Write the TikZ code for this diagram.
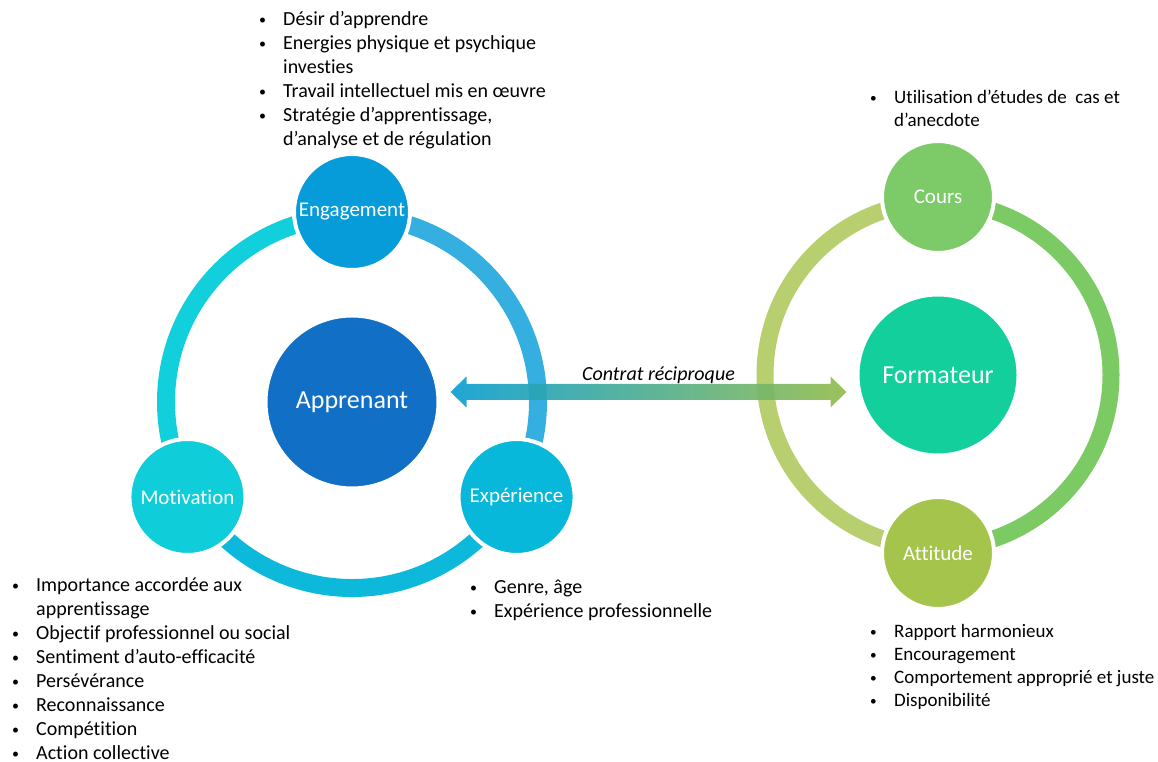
\documentclass[tikz,border=0pt]{standalone}
\usepackage{fontspec}
\setmainfont{Carlito}[Ligatures=NoCommon]
\usepackage{tikz}
\usetikzlibrary{calc}
\usetikzlibrary{positioning}
\tikzset{>=latex}
\definecolor{cApp}{RGB}{17,112,198}
\definecolor{cEng}{RGB}{5,156,217}
\definecolor{cMot}{RGB}{16,205,218}
\definecolor{cExp}{RGB}{8,184,218}
\definecolor{cArcL}{RGB}{18,208,219}
\definecolor{cArcR}{RGB}{53,174,224}
\definecolor{cArcB}{RGB}{12,185,218}
\definecolor{cForm}{RGB}{19,207,156}
\definecolor{cCours}{RGB}{125,203,104}
\definecolor{cAtt}{RGB}{165,196,76}
\definecolor{cVertL}{RGB}{183,207,111}
\definecolor{cVertR}{RGB}{124,202,100}
\definecolor{cFlecheB}{RGB}{4,157,218}
\definecolor{cFlecheV}{RGB}{162,192,64}
\pgfdeclarehorizontalshading{contrat}{100bp}{color(0bp)=(cFlecheB); color(22bp)=(cFlecheB); color(80bp)=(cFlecheV); color(100bp)=(cFlecheV)}
\tikzstyle{bulle} = [circle, draw=white, line width=4pt, text=white, inner sep=0, minimum size=116pt, font=\fontsize{21}{24}\selectfont]
\tikzstyle{centre} = [bulle, font=\fontsize{26}{30}\selectfont]
\tikzstyle{anneau} = [line width=18pt]
\tikzstyle{liste} = [anchor=base west, inner sep=0, font=\fontsize{20}{24}\selectfont]
\newcommand{\puce}{\raisebox{1pt}{\scalebox{0.7}{\textbullet}}}

\begin{document}
\begin{tikzpicture}[x=1pt, y=1pt]
\useasboundingbox (0,0) rectangle (1158,762);
%\draw [help lines, step=50] (0,0) grid (1158,762);
\node [centre, fill=cApp, minimum size=173pt] (app) at (352, 360) {Apprenant};
\draw [anneau, draw=cArcL] (app) ++(90:186) arc [start angle=90, end angle=210, radius=186];
\draw [anneau, draw=cArcR] (app) ++(90:186) arc [start angle=90, end angle=-30, radius=186];
\draw [anneau, draw=cArcB] (app) ++(210:186) arc [start angle=210, end angle=330, radius=186];
\node [bulle, fill=cEng] (eng) at ($(app)+(90:190)$) {Engagement};
\node [bulle, fill=cMot] (mot) at ($(app)+(210:190)$) {Motivation};
\node [bulle, fill=cExp] (exp) at ($(app)+(330:190)$) {Expérience};

\node [centre, fill=cForm, minimum size=161pt] (form) at (938, 387) {Formateur};
\draw [line width=17pt, draw=cVertL] (form) ++(90:173) arc [start angle=90, end angle=270, radius=173];
\draw [line width=17pt, draw=cVertR] (form) ++(90:173) arc [start angle=90, end angle=-90, radius=173];
\node [bulle, fill=cCours, minimum size=112pt] (cours) at ($(form)+(90:178)$) {Cours};
\node [bulle, fill=cAtt, minimum size=112pt] (att) at ($(form)+(270:178)$) {Attitude};

% contrat
\coordinate (lt) at ($(app.east)+(10,10)$);
\coordinate (rt) at ($(form.west)+(-9,-17)$);
\shade [shading=contrat, opacity=0.92] (lt) -- ++(16,15.5) -- ++(0,-7.5) -- ($(rt)+(-16,8)$) -- ++(0,7.5) -- (rt)
  -- ++(-16,-15.5) -- ++(0,7.5) -- ($(lt)+(16,-8)$) -- ++(0,-7.5) -- cycle;
\node [font=\fontsize{20}{24}\selectfont\itshape, inner sep=0] (ctr) at ($(lt)!0.5!(rt)+(10,17)$) {Contrat réciproque};

\node [liste] (leng) at (259, 736) {\begin{tabular}[t]{@{}p{24pt}@{}l@{}}
\puce & Désir d’apprendre\\
\puce & Energies physique et psychique\\
 & investies\\
\puce & Travail intellectuel mis en œuvre\\
\puce & Stratégie d’apprentissage,\\
 & d’analyse et de régulation
\end{tabular}};
\node [liste] (lmot) at (12, 170) {\begin{tabular}[t]{@{}p{24pt}@{}l@{}}
\puce & Importance accordée aux\\
 & apprentissage\\
\puce & Objectif professionnel ou social\\
\puce & Sentiment d’auto-efficacité\\
\puce & Persévérance\\
\puce & Reconnaissance\\
\puce & Compétition\\
\puce & Action collective
\end{tabular}};
\node [liste] (lexp) at (470, 168) {\begin{tabular}[t]{@{}p{24pt}@{}l@{}}
\puce & Genre, âge\\
\puce & Expérience professionnelle
\end{tabular}};
\node [liste, font=\fontsize{19}{22.5}\selectfont] (lcours) at (870, 658) {\begin{tabular}[t]{@{}p{24pt}@{}l@{}}
\puce & Utilisation d’études de~ cas et\\
 & d’anecdote
\end{tabular}};
\node [liste, font=\fontsize{19}{23}\selectfont] (latt) at (870, 124) {\begin{tabular}[t]{@{}p{24pt}@{}l@{}}
\puce & Rapport harmonieux\\
\puce & Encouragement\\
\puce & Comportement approprié et juste\\
\puce & Disponibilité
\end{tabular}};
\end{tikzpicture}
\end{document}
